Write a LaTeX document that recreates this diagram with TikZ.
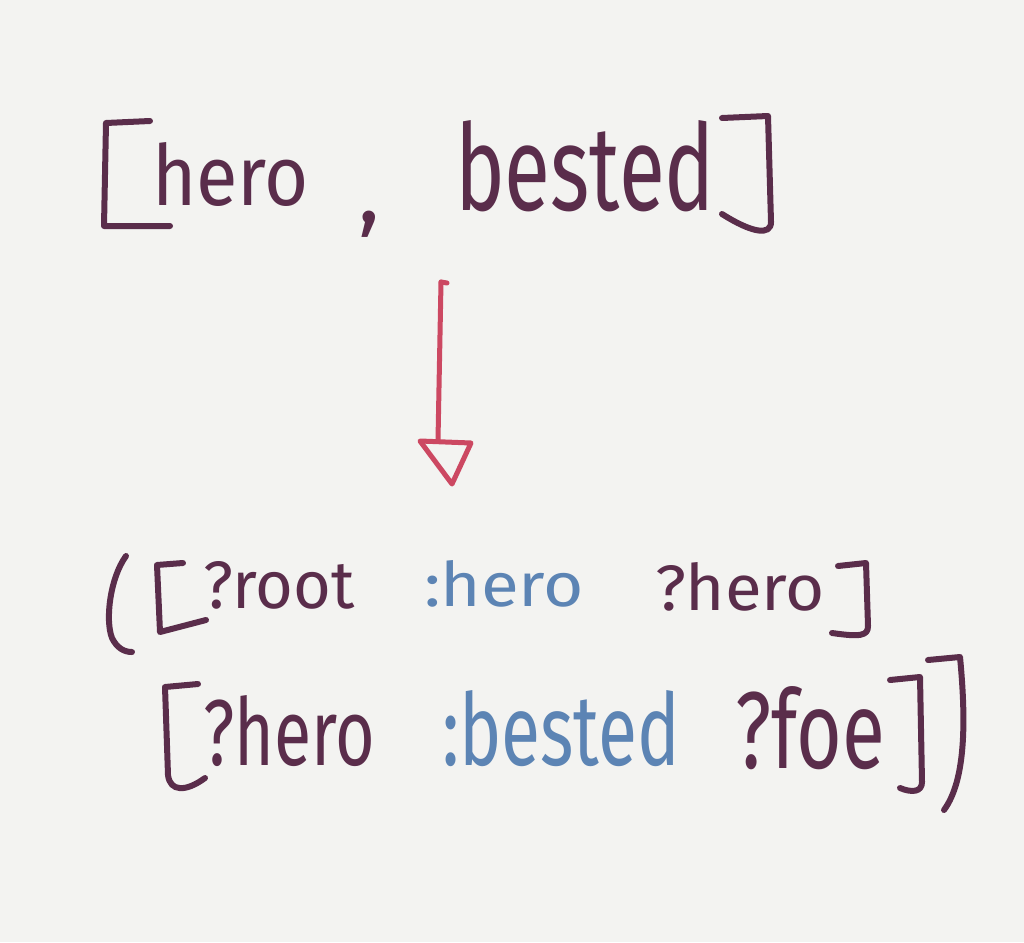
\documentclass[tikz,border=0pt]{standalone}
\usepackage{fontspec}
\setmainfont{Fira Sans}
\usepackage{graphicx}
\definecolor{ink}{HTML}{5A2D4B}
\definecolor{inkblue}{HTML}{5C84B4}
\definecolor{inkred}{HTML}{CC4862}
\definecolor{paper}{HTML}{F3F3F1}
\begin{document}
\begin{tikzpicture}[x=1pt,y=-1pt,
  word/.style={inner sep=0pt, outer sep=0pt, anchor=base west, text=ink},
  blueword/.style={word, text=inkblue},
  stroke/.style={draw=ink, line width=6pt, line cap=round, line join=round},
  arrowline/.style={draw=inkred, line width=5pt, line cap=round, line join=round}]
\fill[paper] (0,0) rectangle (1024,942);
\useasboundingbox (0,0) rectangle (1024,942);
% top line
\node[word] (thero) at (152,205) {\resizebox{157pt}{63pt}{hero}};
\node[word, font=\fontsize{90}{90}\selectfont] (tcomma) at (358,222) {,};
\node[word] (tbested) at (455,210) {\resizebox{260pt}{90pt}{bested}};
\draw[stroke] (150,121) -- (106,123) -- (104,226) -- (170,226);
\draw[stroke] (722,118) -- (768,116) -- (771,222) .. controls (771,236) and (752,233) .. (722,214);
% arrow
\coordinate (arrowtop) at (441,282);
\coordinate (arrowbase) at (438,440);
\coordinate (headL) at (420,441);
\coordinate (headR) at (471,443);
\coordinate (headtip) at (452,484);
\draw[arrowline] (arrowtop) -- (447,283);
\draw[arrowline] (arrowtop) -- (arrowbase);
\draw[arrowline] (headL) -- (headR) -- (headtip) -- cycle;
% bottom line 1
\node[word] (broot) at (203,608) {\resizebox{152pt}{47pt}{?root}};
\node[blueword] (bhero1) at (424,606) {\resizebox{160pt}{46pt}{:hero}};
\node[word] (bqhero1) at (655,610) {\resizebox{170pt}{48pt}{?hero}};
\draw[stroke] (126,556) .. controls (110,578) and (105,620) .. (112,638) .. controls (117,648) and (124,652) .. (132,652);
\draw[stroke] (183,563) -- (157,565) -- (160,632) -- (206,620);
\draw[stroke] (838,566) -- (866,563) -- (868,626) .. controls (868,636) and (860,637) .. (832,633);
% bottom line 2
\node[word] (bqhero2) at (203,765) {\resizebox{172pt}{70pt}{?hero}};
\node[blueword] (bbested) at (442,765) {\resizebox{238pt}{75pt}{:bested}};
\node[word] (bfoe) at (735,768) {\resizebox{150pt}{82pt}{?foe}};
\draw[stroke] (198,684) -- (165,687) -- (168,775) .. controls (170,792) and (186,792) .. (205,778);
\draw[stroke] (890,680) -- (920,677) -- (922,782) .. controls (922,792) and (912,793) .. (900,788);
\draw[stroke] (928,660) -- (960,657) .. controls (966,720) and (966,780) .. (944,810);
\end{tikzpicture}
\end{document}
